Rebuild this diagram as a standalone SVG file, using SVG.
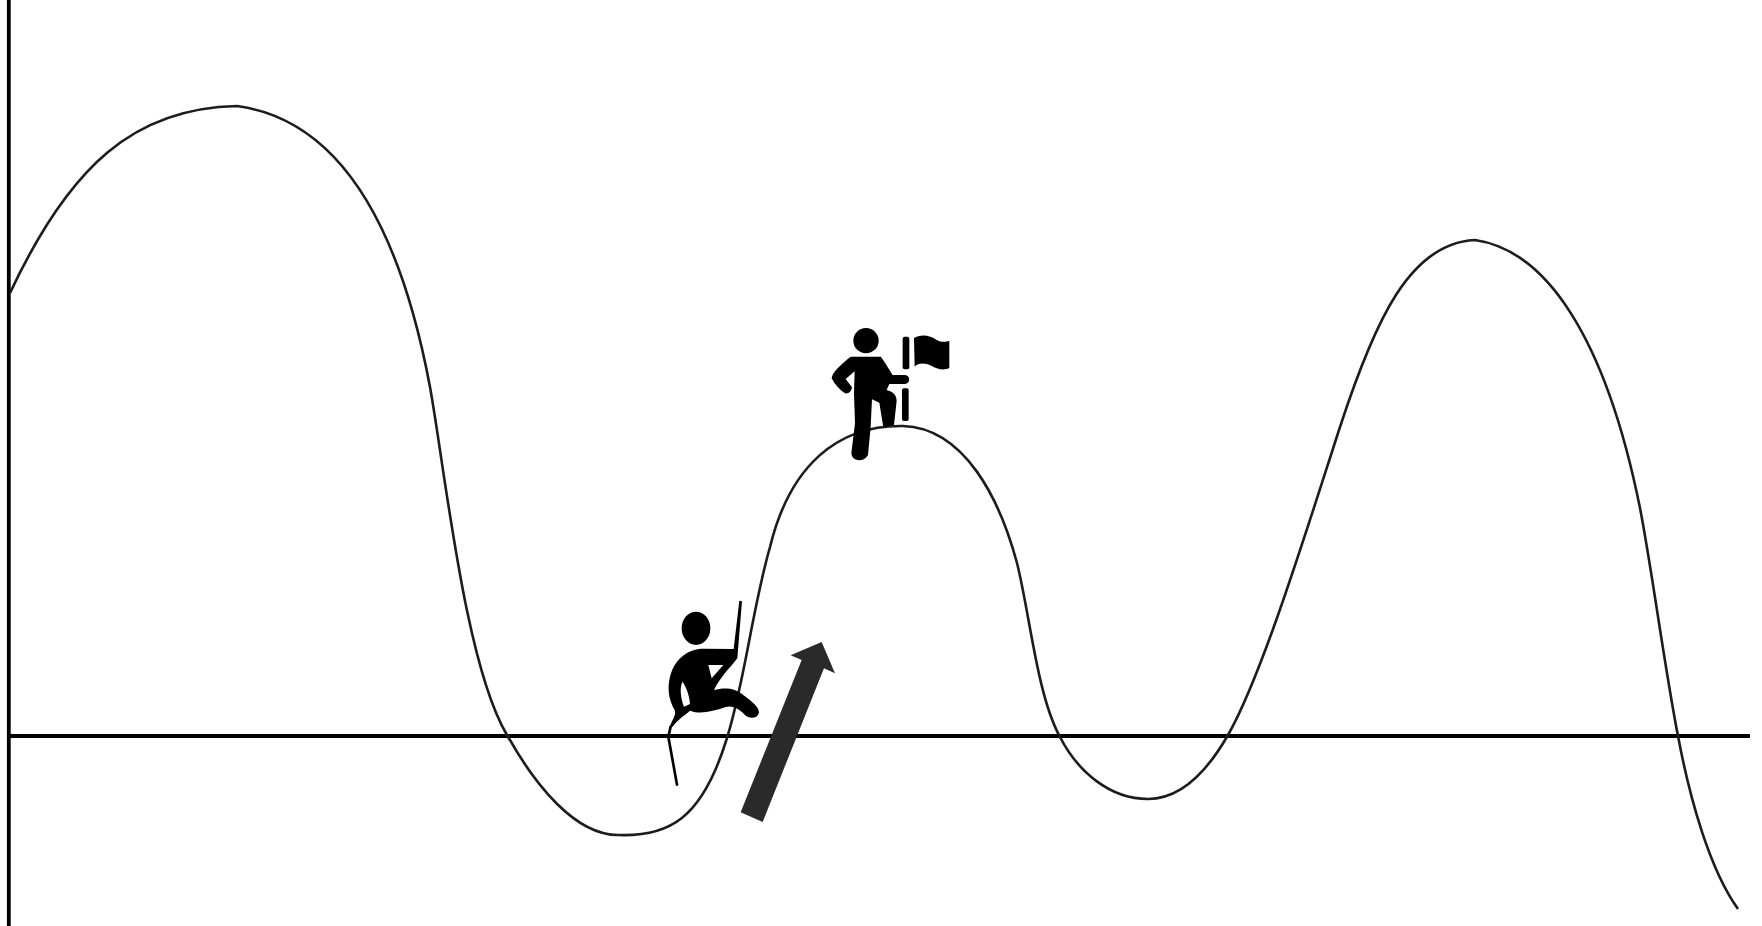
<svg xmlns="http://www.w3.org/2000/svg" width="1762" height="926" viewBox="0 0 1762 926">
<style>
.axis{stroke:#000;stroke-width:3.800;fill:none}
.curve{stroke:#1c1c1c;stroke-width:2.600;fill:none;stroke-linejoin:round}
.fig{fill:#000;stroke:none}
.ln{stroke:#000;fill:none;stroke-linecap:round;stroke-linejoin:round}
</style>
<defs><filter id="soft" filterUnits="userSpaceOnUse" x="0" y="0" width="1762" height="926"><feGaussianBlur stdDeviation="0.6"/></filter></defs>
<rect width="1762" height="926" fill="#fff"/>
<g filter="url(#soft)">
<g id="connectors">
<path class="axis" d="M8.800,0V926"/>
<path class="axis" d="M8,736H1750"/>
<path id="curve" class="curve" d="M10,293C70,165 135,108 237,106C325,118 395,200 430,387C445,470 465,665 507,735C535,785 575,835 618,835C668,837 702,820 727,738C745,680 752,610 770,547C790,465 838,425 903,426C965,428 1000,500 1017,563C1030,615 1037,695 1060,737C1078,772 1110,799 1148,799C1182,799 1208,770 1228,735C1262,675 1305,535 1340,427C1375,320 1410,243 1475,240C1545,250 1605,335 1640,508C1652,570 1665,670 1678,736C1690,800 1710,870 1738,909"/>
</g>
<g id="climber" transform="translate(640,580) scale(.3333)">
<ellipse class="fig" cx="168" cy="145" rx="43" ry="50"/>
<path class="fig" fill-rule="evenodd" d="M281,207L298,62L306,64L292,235C272,262 245,285 222,330C250,322 285,322 310,345C330,360 358,380 357,398C352,418 325,418 312,402C295,385 275,375 255,382C220,394 180,404 150,392C135,405 112,420 98,440L88,445C92,425 108,410 105,392C85,360 80,320 93,280C108,235 145,206 190,206ZM128,305C118,320 122,355 132,380L150,372C148,345 140,325 128,305ZM205,255L250,255L215,295Z"/>
<path class="ln" stroke-width="8" d="M92,440L85,470L111,614"/>
</g>
<g id="arrow">
<polygon fill="#2b2b2b" transform="translate(640,580) scale(.3333)" points="452,226 545,186 585,280 552,265 368,726 302,697 485,240"/>
</g>
<g id="summit-figure" transform="translate(810,310) scale(.3333)">
<circle class="fig" cx="168" cy="92" r="38"/>
<path class="fig" d="M122,140H212C225,155 238,180 248,195H285C302,197 302,220 285,222H238L230,240C248,245 260,255 260,272L252,345L220,352L208,278L186,268L182,350L174,435C162,458 126,455 124,430L135,340L132,250L134,184L107,207L126,232C125,245 115,252 105,250C90,240 75,225 65,205C65,190 90,165 122,140Z"/>
<rect class="fig" x="278" y="80" width="20" height="98" rx="6"/>
<rect class="fig" x="276" y="235" width="20" height="98" rx="6"/>
<path class="fig" d="M312,84C330,72 360,74 380,90C395,98 408,96 418,92V174C400,182 385,178 365,168C345,158 325,158 314,170Z"/>
</g>
</g>
</svg>
